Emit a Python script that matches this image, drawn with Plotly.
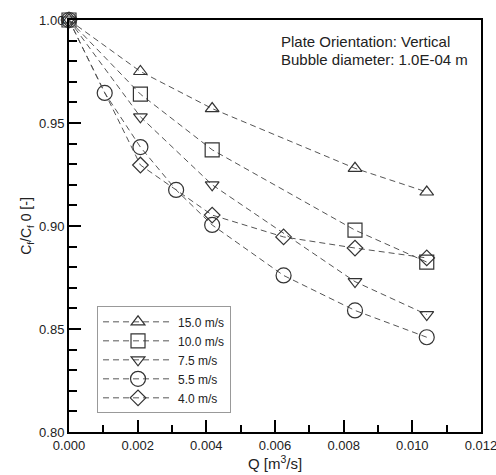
import plotly.graph_objects as go

q_main = [0.0, 0.00208, 0.00417, 0.00833, 0.01042]
q_circ = [0.0, 0.00104, 0.00208, 0.00312, 0.00417, 0.00625, 0.00833, 0.01042]
q_diam = [0.0, 0.00208, 0.00417, 0.00625, 0.00833, 0.01042]

v15 = [1.0, 0.975, 0.957, 0.928, 0.9165]
v10 = [1.0, 0.964, 0.937, 0.898, 0.8825]
v75 = [1.0, 0.953, 0.920, 0.873, 0.857]
v55 = [1.0, 0.9646, 0.9383, 0.9175, 0.9005, 0.876, 0.859, 0.846]
v40 = [1.0, 0.9296, 0.9053, 0.8947, 0.8893, 0.8845]

names = ["15.0 m/s", "10.0 m/s", "7.5 m/s", "5.5 m/s", "4.0 m/s"]
symbols = ["triangle-up-open", "square-open", "triangle-down-open", "circle-open", "diamond-open"]
sizes = [12, 14, 12, 15, 12]

x_ticks = [0.0, 0.002, 0.004, 0.006, 0.008, 0.010, 0.012]
x_labels = ["0.000", "0.002", "0.004", "0.006", "0.008", "0.010", "0.012"]
y_ticks = [0.80, 0.85, 0.90, 0.95, 1.00]
y_labels = ["0.80", "0.85", "0.90", "0.95", "1.00"]

info_lines = ["Plate Orientation: Vertical", "Bubble diameter: 1.0E-04 m"]

series = [(q_main, v15), (q_main, v10), (q_main, v75), (q_circ, v55), (q_diam, v40)]

fig = go.Figure()
for (xs, ys), nm, sym, sz in zip(series, names, symbols, sizes):
    fig.add_trace(go.Scatter(
        x=xs, y=ys, name=nm, mode="lines+markers",
        line=dict(color="#555555", width=1, dash="6px,4px"),
        marker=dict(symbol=sym, size=sz, color="#333333",
                    line=dict(color="#333333", width=1.2)),
        cliponaxis=False,
    ))

axis_common = dict(
    showline=True, linecolor="black", linewidth=2, mirror=True,
    ticks="inside", tickcolor="black", tickwidth=2, ticklen=12,
    showgrid=False, zeroline=False, ticklabeloverflow="allow",
    automargin=False,
    tickfont=dict(family="Liberation Sans, Arial", size=13, color="#222"),
)

annots = []
for txt, yy in zip(info_lines, [0.947, 0.905]):
    annots.append(dict(
        x=0.51, y=yy, xref="paper", yref="paper",
        xanchor="left", yanchor="middle", align="left", showarrow=False,
        text=txt, font=dict(size=15, color="#222"),
    ))

fig.update_layout(
    width=496, height=475,
    margin=dict(l=69, r=15, t=20, b=43),
    paper_bgcolor="white", plot_bgcolor="white",
    font=dict(family="Liberation Sans, Arial", size=12, color="#222"),
    xaxis=dict(range=[0, 0.012], tickvals=x_ticks, ticktext=x_labels,
               title=dict(text="Q [m<sup>3</sup>/s]", standoff=1,
                          font=dict(size=15)),
               minor=dict(ticks="inside", dtick=0.001, ticklen=7,
                          tickcolor="black", tickwidth=2),
               **axis_common),
    yaxis=dict(range=[0.8, 1.0], tickvals=y_ticks, ticktext=y_labels,
               title=dict(text="C<sub>f</sub>/C<sub>f</sub> 0 [-]", standoff=4,
                          font=dict(size=14)),
               minor=dict(ticks="inside", dtick=0.01, ticklen=8,
                          tickcolor="black", tickwidth=2),
               **axis_common),
    legend=dict(x=0.068, y=0.305, xanchor="left", yanchor="top",
                bordercolor="#999999", borderwidth=1, bgcolor="white",
                font=dict(size=12, color="#222"), tracegroupgap=0,
                itemwidth=70),
    annotations=annots,
)

fig.write_html("out.html")
